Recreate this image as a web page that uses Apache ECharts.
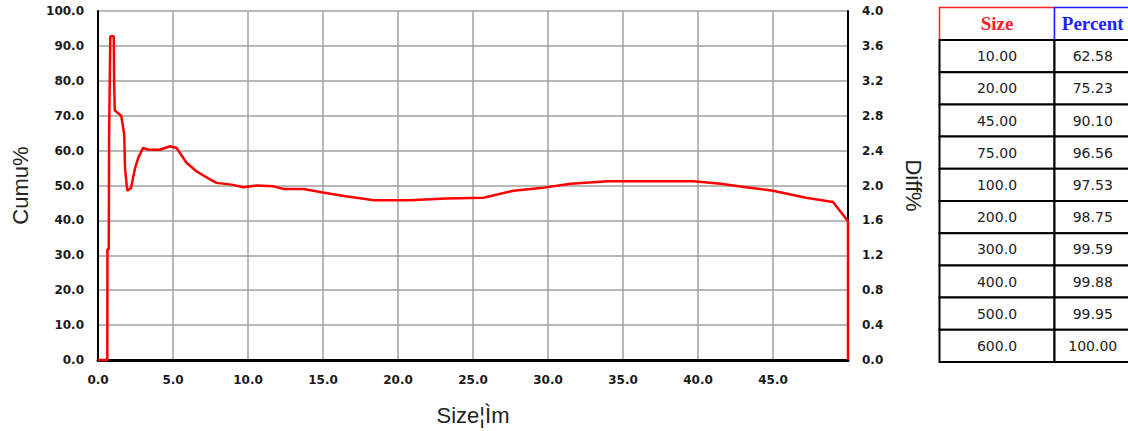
<!DOCTYPE html>
<html>
<head>
<meta charset="utf-8">
<script src="https://cdn.jsdelivr.net/npm/echarts@6/dist/echarts.min.js"></script>
<style>
html,body{margin:0;padding:0;background:#fff;}
#c{width:1128px;height:431px;}
</style>
</head>
<body>
<div id="c"></div>
<script>
// Differential distribution curve (Diff%, right axis) vs size
const sizeX = [0, 0.62, 0.63, 0.72, 0.74, 0.78, 0.82, 1.05, 1.08, 1.12, 1.55, 1.75, 1.8, 1.95, 2.2, 2.47, 2.69, 3.0, 3.36, 4.13, 4.8, 5.24, 5.9, 6.58, 7.47, 7.9, 8.9, 9.7, 10.6, 11.7, 12.4, 13.7, 15.0, 16.4, 18.4, 20.8, 23.2, 25.7, 27.7, 29.5, 31.5, 34.0, 39.7, 41.5, 43.2, 45.0, 47.2, 49.0, 50.0, 50.0];
const diffPct = [0, 0, 1.27, 1.27, 2.58, 2.58, 3.71, 3.71, 3.16, 2.86, 2.80, 2.58, 2.20, 1.94, 1.97, 2.20, 2.32, 2.43, 2.41, 2.41, 2.45, 2.43, 2.26, 2.16, 2.07, 2.03, 2.01, 1.98, 2.00, 1.99, 1.96, 1.96, 1.92, 1.88, 1.83, 1.83, 1.85, 1.86, 1.94, 1.97, 2.02, 2.05, 2.05, 2.02, 1.98, 1.94, 1.86, 1.81, 1.59, 0];

// Table on the right
const tableHeaders = ['Size', 'Percent'];
const tableSizes = ['10.00', '20.00', '45.00', '75.00', '100.0', '200.0', '300.0', '400.0', '500.0', '600.0'];
const tablePercents = ['62.58', '75.23', '90.10', '96.56', '97.53', '98.75', '99.59', '99.88', '99.95', '100.00'];

const chart = echarts.init(document.getElementById('c'), null, {renderer: 'svg'});

const labelFont = {fontFamily: 'DejaVu Sans', fontWeight: 'bold', fontSize: 12, color: '#1a1a1a'};
const nameFont = {fontFamily: 'Liberation Sans', fontSize: 22, color: '#222'};

// build table graphics
const tX = [939.5, 1054.5, 1131];
const tTop = 7.5, headH = 32.5, rowH = 32.2;
const graphics = [];
const headColors = ['#ff2020', '#2020ff'];
for (let c = 0; c < 2; c++) {
  graphics.push({type: 'rect', shape: {x: tX[c], y: tTop, width: tX[c+1] - tX[c], height: headH},
    style: {fill: '#fff', stroke: headColors[c], lineWidth: 1.5}});
  graphics.push({type: 'text', x: (tX[c] + tX[c+1]) / 2, y: tTop + headH / 2,
    style: {text: tableHeaders[c], fill: headColors[c], font: 'bold 19px "Liberation Serif"', align: 'center', verticalAlign: 'middle'}});
}
const cols = [tableSizes, tablePercents];
for (let r = 0; r < tableSizes.length; r++) {
  const y0 = tTop + headH + r * rowH;
  for (let c = 0; c < 2; c++) {
    graphics.push({type: 'rect', shape: {x: tX[c], y: y0, width: tX[c+1] - tX[c], height: rowH},
      style: {fill: '#fff', stroke: '#000', lineWidth: 2}});
    graphics.push({type: 'text', x: (tX[c] + tX[c+1]) / 2, y: y0 + rowH / 2,
      style: {text: cols[c][r], fill: '#222', font: '14px "DejaVu Sans"', align: 'center', verticalAlign: 'middle'}});
  }
}

chart.setOption({
  animation: false,
  backgroundColor: '#fff',
  grid: {left: 98, right: 280, top: 11, bottom: 70, containLabel: false},
  xAxis: {
    type: 'value', min: 0, max: 50, interval: 5,
    name: 'Size¦Ìm', nameLocation: 'middle', nameGap: 44, nameTextStyle: nameFont,
    axisLine: {show: true, onZero: false, lineStyle: {color: '#000', width: 3}},
    axisTick: {show: false},
    axisLabel: Object.assign({margin: 14, showMaxLabel: false, formatter: v => v.toFixed(1)}, labelFont),
    splitLine: {show: true, lineStyle: {color: '#a0a0a0', width: 1.5}}
  },
  yAxis: [{
    type: 'value', min: 0, max: 100, interval: 10, position: 'left',
    name: 'Cumu%', nameLocation: 'middle', nameGap: 67, nameRotate: 90, nameTextStyle: nameFont,
    axisLine: {show: true, lineStyle: {color: '#000', width: 2}},
    axisTick: {show: false},
    axisLabel: Object.assign({margin: 14, padding: [10, 0, 0, 0], formatter: v => v.toFixed(1)}, labelFont),
    splitLine: {show: true, lineStyle: {color: '#a0a0a0', width: 1.5}}
  }, {
    type: 'value', min: 0, max: 4, interval: 0.4, position: 'right',
    name: 'Diff%', nameLocation: 'middle', nameGap: 54, nameRotate: -90, nameTextStyle: nameFont,
    axisLine: {show: true, lineStyle: {color: '#000', width: 2}},
    axisTick: {show: false},
    axisLabel: Object.assign({margin: 14, padding: [10, 0, 0, 0], formatter: v => v.toFixed(1)}, labelFont),
    splitLine: {show: false}
  }],
  series: [{
    type: 'line', yAxisIndex: 1, showSymbol: false, symbol: 'none', clip: false,
    lineStyle: {color: '#ff0000', width: 2.5},
    data: sizeX.map((x, i) => [x, diffPct[i]])
  }],
  graphic: graphics
});
</script>
</body>
</html>
